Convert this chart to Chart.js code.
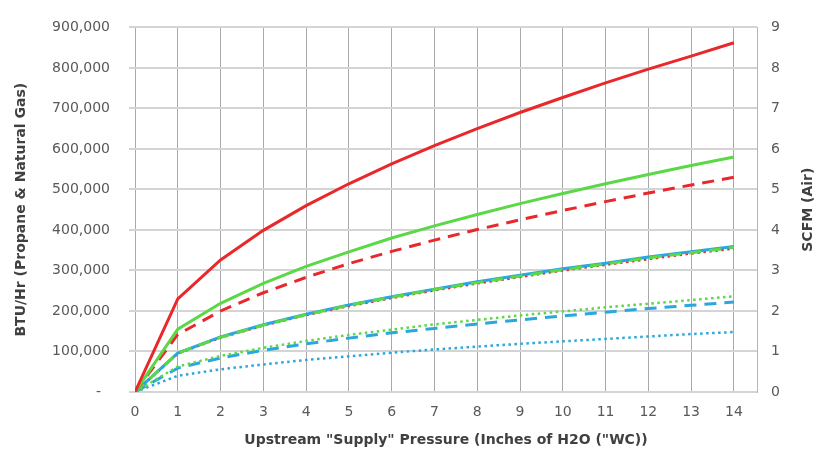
<!DOCTYPE html>
<html>
<head>
<meta charset="utf-8">
<script src="https://cdn.jsdelivr.net/npm/chart.js@4"></script>
<style>
  html, body { margin: 0; padding: 0; background: #fff; }
  #wrap { width: 824px; height: 460px; }
</style>
</head>
<body>
<div id="wrap"><canvas id="chart" width="824" height="460"></canvas></div>
<script>
// Upstream supply pressure ("WC)
const pressure = [0, 1, 2, 3, 4, 5, 6, 7, 8, 9, 10, 11, 12, 13, 14];

// BTU/Hr series (left axis)
const propaneLarge = [0, 230000, 326000, 399000, 460000, 514000, 563000, 608000, 650000, 690000, 727000, 763000, 797000, 829000, 862000];
const propaneMedium = [0, 142000, 200000, 245000, 283000, 317000, 347000, 375000, 401000, 425000, 448000, 470000, 491000, 511000, 530000];
const propaneSmall = [0, 95000, 134000, 164000, 190000, 212000, 232000, 251000, 268000, 284000, 300000, 314000, 328000, 342000, 354000];
const natGasLarge = [0, 155000, 219000, 268000, 310000, 346000, 380000, 410000, 438000, 465000, 490000, 514000, 537000, 559000, 580000];
const natGasMedium = [0, 96000, 135000, 165000, 191000, 214000, 234000, 253000, 270000, 286000, 302000, 316000, 331000, 344000, 357000];
const natGasSmall = [0, 63000, 89000, 109000, 126000, 141000, 154000, 167000, 178000, 189000, 199000, 209000, 218000, 227000, 236000];

// SCFM series (right axis)
const airLarge = [0, 0.96, 1.36, 1.66, 1.92, 2.15, 2.35, 2.54, 2.72, 2.88, 3.04, 3.18, 3.33, 3.46, 3.59];
const airMedium = [0, 0.59, 0.84, 1.03, 1.19, 1.33, 1.46, 1.57, 1.68, 1.78, 1.88, 1.97, 2.06, 2.14, 2.22];
const airSmall = [0, 0.40, 0.56, 0.68, 0.79, 0.88, 0.97, 1.05, 1.12, 1.19, 1.25, 1.31, 1.37, 1.43, 1.48];

const RED = '#e8282b';
const GREEN = '#5ad845';
const BLUE = '#2aa7df';

const pts = arr => arr.map((v, i) => ({ x: pressure[i], y: v }));

function series(data, color, style, axis) {
    const ds = {
        data: pts(data),
        yAxisID: axis,
        borderColor: color,
        backgroundColor: color,
        borderWidth: 3,
        pointRadius: 0,
        tension: 0,
        fill: false
    };
    if (style === 'dash') ds.borderDash = [12, 8];
    if (style === 'dot') { ds.borderDash = [2.5, 3.5]; ds.borderWidth = 2.5; }
    return ds;
}

// Right axis title drawn bottom-to-top like the left one
const rightTitle = {
    id: 'rightTitle',
    afterDraw(chart) {
        const { ctx, chartArea } = chart;
        ctx.save();
        ctx.translate(808, (chartArea.top + chartArea.bottom) / 2);
        ctx.rotate(-Math.PI / 2);
        ctx.font = 'bold 14px "DejaVu Sans"';
        ctx.fillStyle = '#404040';
        ctx.textAlign = 'center';
        ctx.textBaseline = 'middle';
        ctx.fillText('SCFM (Air)', 0, 0);
        ctx.restore();
    }
};

const tickFont = { family: 'DejaVu Sans', size: 14 };
const titleFont = { family: 'DejaVu Sans', size: 14, weight: 'bold' };

new Chart(document.getElementById('chart'), {
    type: 'line',
    data: {
        datasets: [
            series(propaneLarge, RED, 'solid', 'y'),
            series(natGasLarge, GREEN, 'solid', 'y'),
            series(propaneMedium, RED, 'dash', 'y'),
            series(natGasMedium, GREEN, 'dash', 'y'),
            series(airLarge, BLUE, 'solid', 'y1'),
            series(propaneSmall, RED, 'dot', 'y'),
            series(natGasSmall, GREEN, 'dot', 'y'),
            series(airMedium, BLUE, 'dash', 'y1'),
            series(airSmall, BLUE, 'dot', 'y1')
        ]
    },
    options: {
        responsive: false,
        animation: false,
        layout: { padding: { top: 20, left: 0, right: 0, bottom: 0 } },
        plugins: { legend: { display: false }, tooltip: { enabled: false } },
        scales: {
            x: {
                type: 'linear',
                min: 0,
                max: 14.54,
                afterFit: s => { s.height = 68; },
                ticks: { stepSize: 1, includeBounds: false, padding: 12, color: '#595959', font: tickFont },
                grid: { color: '#a9a9a9', lineWidth: 1, drawTicks: false },
                border: { display: false },
                title: {
                    display: true,
                    text: 'Upstream "Supply" Pressure (Inches of H2O ("WC))',
                    color: '#404040',
                    font: titleFont,
                    padding: { top: 0, bottom: 11 }
                }
            },
            y: {
                position: 'left',
                min: 0,
                max: 900000,
                afterFit: s => { s.width = 135; },
                ticks: {
                    stepSize: 100000,
                    padding: 19,
                    color: '#595959',
                    font: tickFont,
                    callback: v => v === 0 ? '-  ' : v.toLocaleString('en-US')
                },
                grid: { color: '#d4d4d4', lineWidth: 2, tickLength: 6 },
                border: { display: false },
                title: {
                    display: true,
                    text: 'BTU/Hr (Propane & Natural Gas)',
                    color: '#404040',
                    font: titleFont,
                    padding: { top: 13, bottom: 0 }
                }
            },
            y1: {
                position: 'right',
                min: 0,
                max: 9,
                afterFit: s => { s.width = 67; },
                ticks: { stepSize: 1, padding: 14, color: '#595959', font: tickFont },
                grid: { display: false, drawTicks: false },
                border: { display: true, color: '#b5b5b5', width: 1 }
            }
        }
    },
    plugins: [rightTitle]
});
</script>
</body>
</html>
